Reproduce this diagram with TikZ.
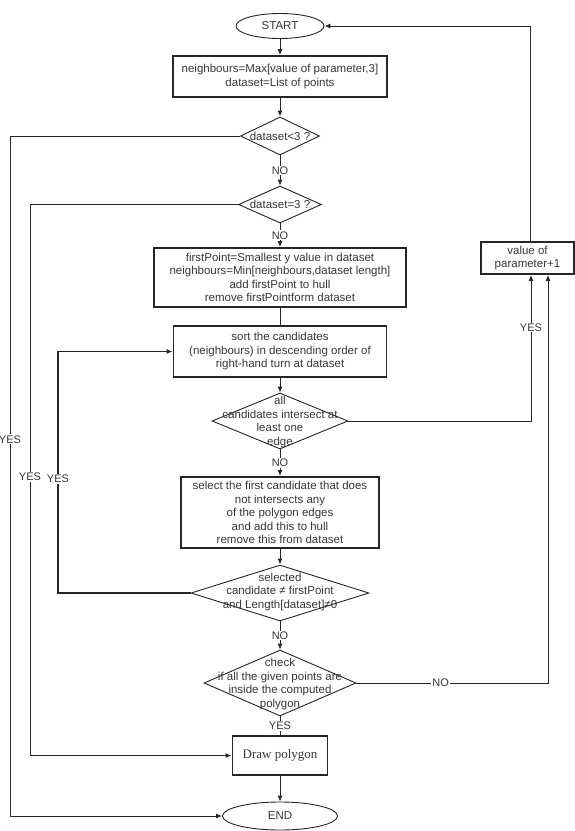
\documentclass[tikz,border=0pt]{standalone}
\usepackage{fontspec}
\setmainfont{Liberation Sans}
\newfontfamily\serifdp{Liberation Serif}
\usetikzlibrary{shapes.geometric,arrows.meta}
\begin{document}
\begin{tikzpicture}[x=1pt,y=-1pt,
  every node/.style={font=\fontsize{11.5}{13.5}\selectfont, text=black!78},
  ln/.style={draw=black!85, line width=1pt},
  arr/.style={ln, -{Latex[length=6pt,width=5pt]}},
  boxn/.style={rectangle, draw=black!85, line width=1.8pt, inner sep=0pt, align=center},
  dia/.style={diamond, draw=black!85, line width=0.9pt, inner sep=0pt},
  term/.style={ellipse, draw=black!85, line width=0.9pt, inner sep=0pt},
  txt/.style={align=center, inner sep=0pt},
  lab/.style={fill=white, inner sep=1pt, font=\fontsize{11}{13}\selectfont}]
\useasboundingbox (0,0) rectangle (575,831);
\fill[white] (0,0) rectangle (575,831);

\coordinate (L1) at (10,0);
\coordinate (L2) at (30,0);
\coordinate (L3) at (58,0);
\coordinate (R0) at (530,0);
\coordinate (R1) at (531,0);
\coordinate (R2) at (548,0);

\node[term, minimum width=88, minimum height=25] (start) at (280,26) {START};
\node[boxn, minimum width=214, minimum height=41] (b1) at (280,76.5)
  {neighbours=Max[value of parameter,3]\\dataset=List of points};
\node[dia, minimum width=79, minimum height=38] (d1) at (280,136) {};
\node[txt] (d1t) at (280,136) {dataset<3 ?};
\node[dia, minimum width=83, minimum height=37] (d2) at (280,204.5) {};
\node[txt] (d2t) at (280,204.5) {dataset=3 ?};
\node[boxn, minimum width=252, minimum height=59] (b3) at (280,277.5)
  {firstPoint=Smallest y value in dataset\\neighbours=Min[neighbours,dataset length]\\add firstPoint to hull\\remove firstPointform dataset};
\node[boxn, minimum width=93, minimum height=32] (vp) at (527.5,258)
  {value of\\parameter+1};
\node[boxn, minimum width=213, minimum height=51] (b4) at (280,351.5)
  {sort the candidates\\(neighbours) in descending order of\\right-hand turn at dataset};
\node[dia, minimum width=136, minimum height=56] (d3) at (280,421) {};
\node[txt] (d3t) at (280,422) {all\\candidates intersect at\\least one\\edge};
\node[boxn, minimum width=198, minimum height=71] (b5) at (280,512.5)
  {select the first candidate that does\\not intersects any\\of the polygon edges\\and add this to hull\\remove this from dataset};
\node[dia, minimum width=178, minimum height=56] (d4) at (280,593) {};
\node[txt] (d4t) at (280,592) {selected\\candidate ≠ firstPoint\\and Length[dataset]≠0};
\node[dia, minimum width=152, minimum height=66] (d5) at (280,683) {};
\node[txt] (d5t) at (280,684) {check\\if all the given points are\\inside the computed\\polygon};
\node[boxn, minimum width=95, minimum height=39] (dp) at (280,755.5)
  {\serifdp\fontsize{13}{15}\selectfont Draw polygon};
\node[term, minimum width=115, minimum height=28] (end) at (280,816) {END};

% main column
\draw[arr] (start) -- (b1);
\draw[arr] (b1) -- (d1);
\draw[arr] (d1) -- node[lab]{NO} (d2);
\draw[arr] (d2) -- node[lab]{NO} (b3);
\draw[ln] (b3) -- (b4);
\draw[arr] (b4) -- (d3);
\draw[arr] (d3) -- node[lab]{NO} (b5);
\draw[arr] (b5) -- (d4);
\draw[arr] (d4) -- node[lab]{NO} (d5);
\draw[ln] (d5) -- node[lab]{YES} (dp);
\draw[arr] (dp) -- (end);

% left branches
\draw[arr] (d1.west) -- (d1.west -| L1) -- node[lab,pos=0.446]{YES} (L1 |- end.west) -- (end.west);
\draw[arr] (d2.west) -- (d2.west -| L2) -- node[lab,pos=0.494]{YES} (L2 |- dp.west) -- (dp.west);
\draw[arr, line width=1.4pt] (d4.west) -- (d4.west -| L3) -- node[lab,pos=0.472]{YES} (L3 |- b4.west) -- (b4.west);

% right branches
\draw[arr] (d3.east) -- (d3.east -| R1) -- node[lab,pos=0.64]{YES} (R1 |- vp.south);
\draw[arr] (d5.east) -- node[lab,pos=0.44]{NO} (d5.east -| R2) -- (R2 |- vp.south);
\draw[arr] (R0 |- vp.north) |- (start.east);
\end{tikzpicture}
\end{document}
